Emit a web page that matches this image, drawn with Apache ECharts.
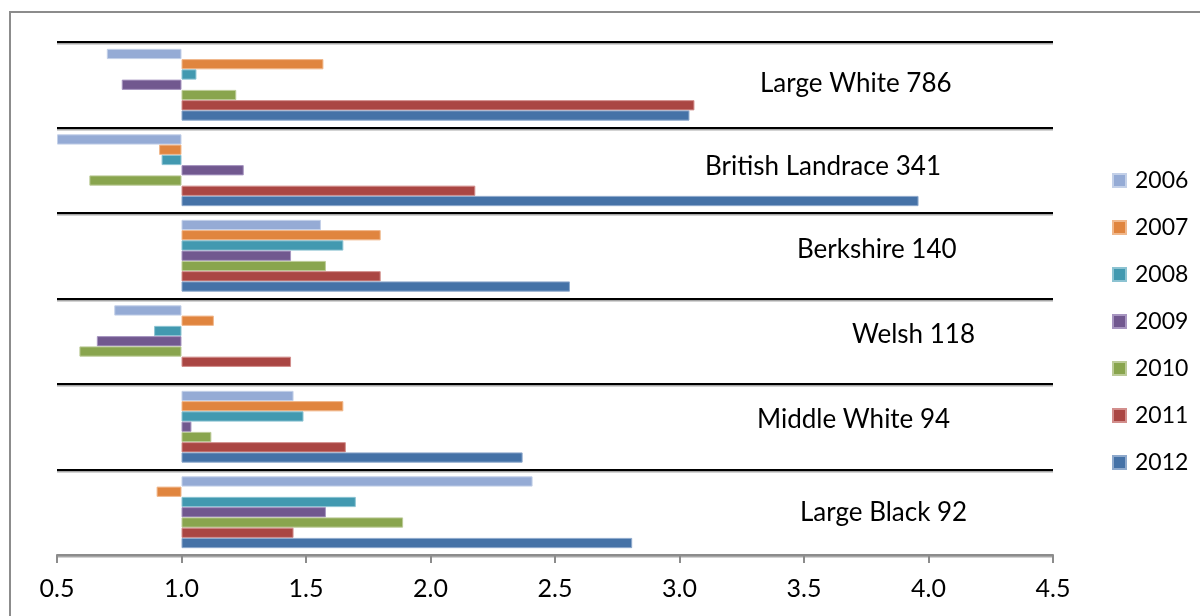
<!DOCTYPE html>
<html>
<head>
<meta charset="utf-8">
<script src="https://cdn.jsdelivr.net/npm/echarts@6/dist/echarts.min.js"></script>
<style>
  html, body { margin: 0; padding: 0; background: #ffffff; }
  #chart { width: 1200px; height: 616px; }
</style>
</head>
<body>
<div id="chart"></div>
<script>
// Breeds (top to bottom) and their herd counts shown beside the name
const breeds = ['Large White', 'British Landrace', 'Berkshire', 'Welsh', 'Middle White', 'Large Black'];
const counts = [786, 341, 140, 118, 94, 92];
const years = ['2006', '2007', '2008', '2009', '2010', '2011', '2012'];

// Ratio per year, one array per year, in breed order
const v2006 = [0.70, 0.50, 1.56, 0.73, 1.45, 2.41];
const v2007 = [1.57, 0.91, 1.80, 1.13, 1.65, 0.90];
const v2008 = [1.06, 0.92, 1.65, 0.89, 1.49, 1.70];
const v2009 = [0.76, 1.25, 1.44, 0.66, 1.04, 1.58];
const v2010 = [1.22, 0.63, 1.58, 0.59, 1.12, 1.89];
const v2011 = [3.06, 2.18, 1.80, 1.44, 1.66, 1.45];
const v2012 = [3.04, 3.96, 2.56, null, 2.37, 2.81];
const yearValues = [v2006, v2007, v2008, v2009, v2010, v2011, v2012];

const xTicks = { min: 0.5, max: 4.5, interval: 0.5 };
const baseline = 1.0;

const colors = ['#95abd5', '#e0853f', '#4299b0', '#71588f', '#89a54e', '#aa4643', '#4572a7'];
const borders = ['#c3d0e8', '#f0b88c', '#8cc3d2', '#a795c0', '#bccb98', '#d28e8c', '#8ea9cc'];

// Every bar runs from the baseline (1.0) to its value: an invisible stacked
// segment lifts the visible one to min(value, 1).
const series = [];
years.forEach((y, i) => {
  const vals = yearValues[i];
  series.push({
    name: 'base' + y,
    type: 'bar',
    stack: 's' + y,
    silent: true,
    itemStyle: { color: 'transparent' },
    data: vals.map(v => v == null ? null : Math.min(v, baseline)),
    barCategoryGap: '16%',
    barGap: '0%'
  });
  series.push({
    name: y,
    type: 'bar',
    stack: 's' + y,
    itemStyle: { color: colors[i], borderColor: borders[i], borderWidth: 1 },
    data: vals.map(v => v == null ? null : Math.abs(v - baseline)),
    barCategoryGap: '16%',
    barGap: '0%'
  });
});

const FONT = 'Lato, "Open Sans", sans-serif';

const chart = echarts.init(document.getElementById('chart'), null, { renderer: 'canvas' });

const option = {
  animation: false,
  backgroundColor: '#ffffff',
  color: colors,
  grid: { left: 57, right: 147, top: 42, bottom: 61 },
  legend: {
    data: years,
    orient: 'vertical',
    left: 1112,
    top: 169,
    padding: 0,
    itemWidth: 13,
    itemHeight: 13,
    itemGap: 24,
    icon: 'rect',
    textStyle: { fontFamily: FONT, fontSize: 23, color: '#000', padding: [0, 0, 0, 4] }
  },
  xAxis: {
    type: 'value',
    min: xTicks.min,
    max: xTicks.max,
    interval: xTicks.interval,
    z: 5,
    axisLine: { show: true, lineStyle: { color: '#8c8c8c', width: 2 } },
    axisTick: { show: true, length: 8, lineStyle: { color: '#8c8c8c', width: 2 } },
    splitLine: { show: false },
    axisLabel: {
      fontFamily: FONT, fontSize: 25, color: '#000', margin: 21,
      formatter: v => v.toFixed(1)
    }
  },
  yAxis: {
    type: 'category',
    inverse: true,
    data: breeds,
    axisLine: { show: false },
    axisTick: { show: false },
    axisLabel: { show: false },
    splitLine: {
      show: true,
      lineStyle: { color: '#000', width: 2, shadowColor: 'rgba(0,0,0,0.35)', shadowOffsetY: 1.5, shadowBlur: 0 }
    }
  },
  series: series
};

chart.setOption(option);

// Breed name with herd count, written inside each band on the right
const labelX = [760, 705, 797, 852, 757, 800];
const labelDy = [2, -1, -3, -4, -4, 3];
const texts = breeds.map((b, i) => {
  const yc = chart.convertToPixel({ yAxisIndex: 0 }, b);
  return {
    type: 'text',
    left: labelX[i],
    top: yc + labelDy[i] - 16,
    style: { text: b + ' ' + counts[i], font: '26px ' + FONT, fill: '#000' },
    z: 10
  };
});

chart.setOption({
  graphic: texts.concat([{
    type: 'rect',
    shape: { x: 10, y: 12, width: 1200, height: 620 },
    style: { fill: 'none', stroke: '#8c8c8c', lineWidth: 2 },
    z: 20
  }])
});
</script>
</body>
</html>
